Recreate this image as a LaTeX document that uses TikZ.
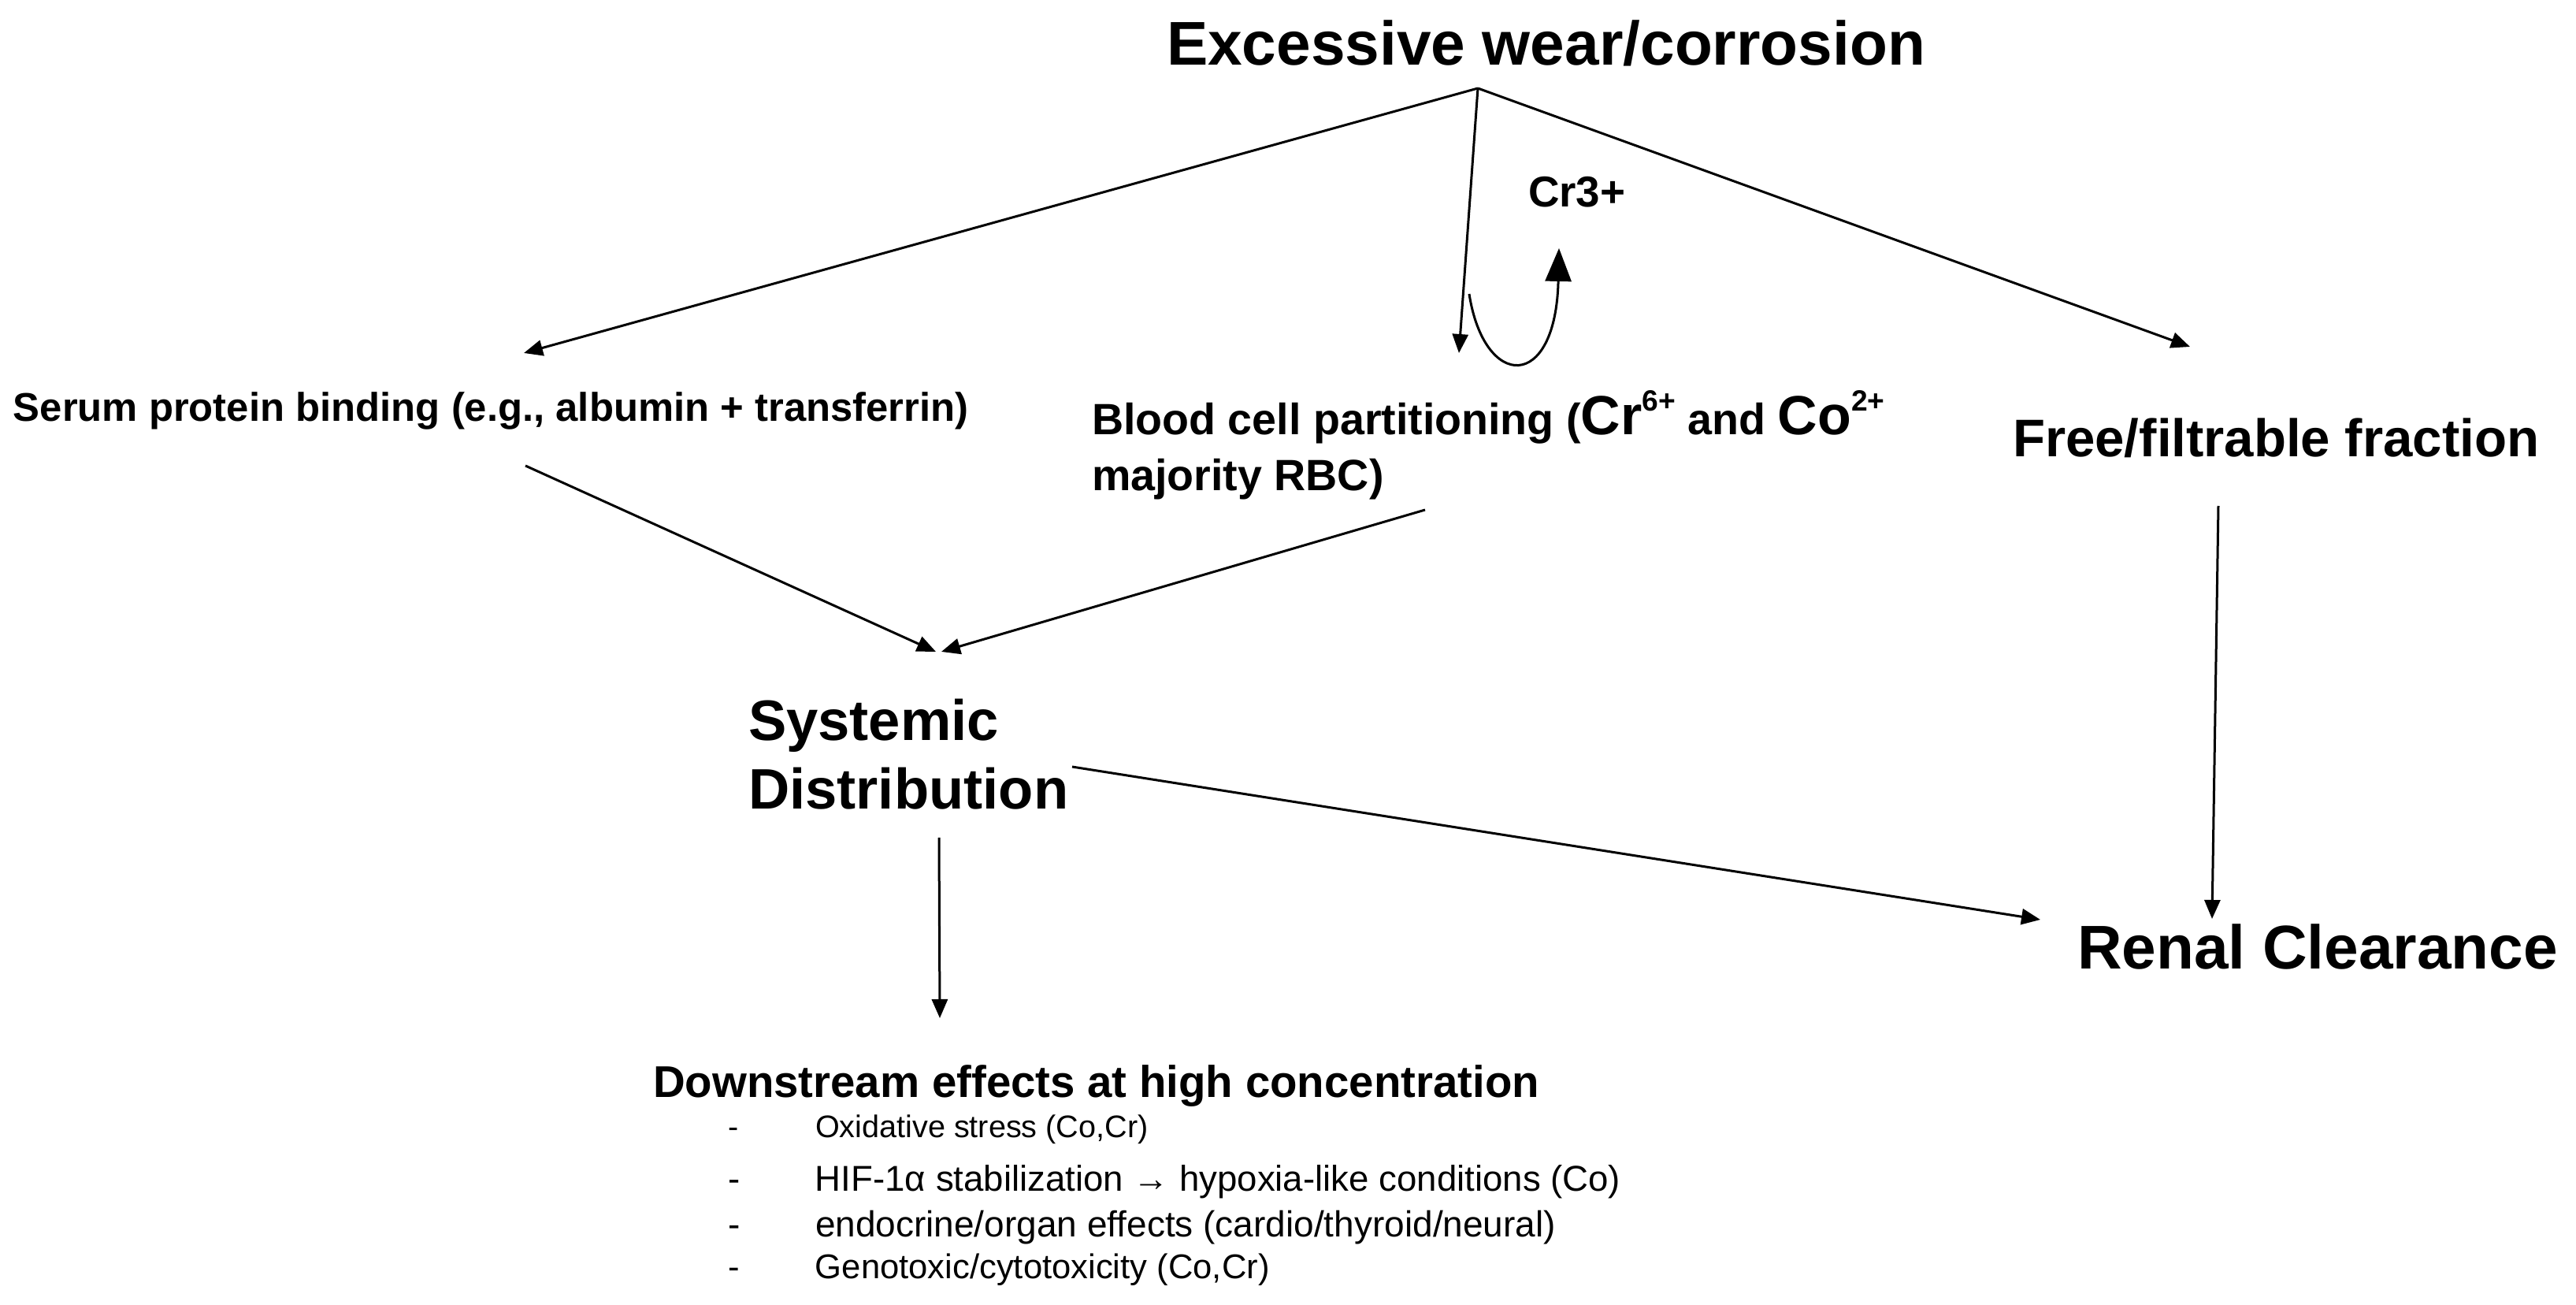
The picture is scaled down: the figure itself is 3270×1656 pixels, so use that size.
\documentclass[tikz,border=0pt]{standalone}
\usepackage{fontspec}
\setmainfont{Liberation Sans}
\usetikzlibrary{arrows.meta}
\begin{document}
\begin{tikzpicture}[x=0.25pt,y=-0.25pt,
  lbl/.style={inner sep=0pt, outer sep=0pt, anchor=base west},
  bsz/.style={font=\bfseries\fontsize{#1}{#1}\selectfont},
  rsz/.style={font=\fontsize{#1}{#1}\selectfont},
  conn/.style={line width=0.75pt, draw=black, -{Triangle[length=6pt,width=5pt]}},
  loopconn/.style={line width=0.75pt, draw=black, -{Triangle[length=10.5pt,width=8.25pt]}}]
\useasboundingbox (0,0) rectangle (3270,1656);
\fill[white] (0,0) rectangle (3270,1656);

% text nodes (multi-line nodes are placed by the baseline of their last line)
\node[lbl, bsz=19.6pt] (title) at (1481,83) {Excessive wear/corrosion};
\node[lbl, bsz=13.7pt] (cr3) at (1940,263) {Cr3+};
\node[lbl, bsz=12.7pt] (serum) at (17,535) {Serum protein binding (e.g., albumin + transferrin)};
\node[lbl, font=\bfseries\fontsize{13.9pt}{17.75pt}\selectfont, align=left] (blood) at (1386,623)
  {Blood cell partitioning ({\fontsize{17.5pt}{17.75pt}\selectfont Cr}{\fontsize{9.3pt}{9.3pt}\selectfont\raisebox{7.5pt}{6+}} and {\fontsize{17.5pt}{17.75pt}\selectfont Co}{\fontsize{9.3pt}{9.3pt}\selectfont\raisebox{7.5pt}{2+}}\\ majority RBC)};
\node[lbl, bsz=16.8pt] (free) at (2555,580) {Free/filtrable fraction};
\node[lbl, font=\bfseries\fontsize{18.1pt}{21.75pt}\selectfont, align=left] (systemic) at (950,1027) {Systemic\\Distribution};
\node[lbl, bsz=19.6pt] (renal) at (2637,1230) {Renal Clearance};
\node[lbl, bsz=14.1pt] (down) at (829,1393) {Downstream effects at high concentration};
\node[lbl, rsz=9.9pt] (e1) at (924,1444) {\makebox[27.75pt][l]{-}Oxidative stress (Co,Cr)};
\node[lbl, rsz=11.4pt] (e2) at (924,1511) {\makebox[27.75pt][l]{-}HIF-1α stabilization → hypoxia-like conditions (Co)};
\node[lbl, rsz=11.5pt] (e3) at (924,1569) {\makebox[27.75pt][l]{-}endocrine/organ effects (cardio/thyroid/neural)};
\node[lbl, rsz=10.9pt] (e4) at (924,1623) {\makebox[27.75pt][l]{-}Genotoxic/cytotoxicity (Co,Cr)};

% connector end points
\coordinate (title-out) at (1876,112);
\coordinate (serum-in) at (665,448);
\coordinate (blood-in) at (1852,448);
\coordinate (free-in) at (2780,440);
\coordinate (loop-start) at (1865,373);
\coordinate (loop-c1) at (1884,495);
\coordinate (loop-c2) at (1975,498);
\coordinate (cr3-in) at (1979,315);
\coordinate (serum-out) at (667,591);
\coordinate (blood-out) at (1809,647);
\coordinate (sys-in-l) at (1188,827);
\coordinate (sys-in-r) at (1195,827);
\coordinate (sys-out-r) at (1361,973);
\coordinate (sys-out-d) at (1192,1063);
\coordinate (down-in) at (1193,1292);
\coordinate (free-out) at (2816,642);
\coordinate (renal-in-l) at (2590,1167);
\coordinate (renal-in-t) at (2808,1166);

% connectors
\draw[conn] (title-out) -- (serum-in);
\draw[conn] (title-out) -- (blood-in);
\draw[conn] (title-out) -- (free-in);
\draw[loopconn] (loop-start) .. controls (loop-c1) and (loop-c2) .. (cr3-in);
\draw[conn] (serum-out) -- (sys-in-l);
\draw[conn] (blood-out) -- (sys-in-r);
\draw[conn] (sys-out-r) -- (renal-in-l);
\draw[conn] (sys-out-d) -- (down-in);
\draw[conn] (free-out) -- (renal-in-t);
\end{tikzpicture}
\end{document}
